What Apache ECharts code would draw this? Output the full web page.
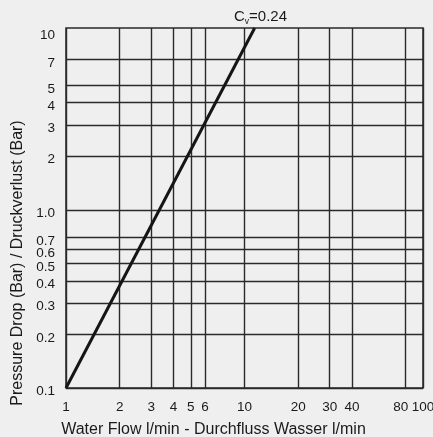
<!DOCTYPE html>
<html>
<head>
<meta charset="utf-8">
<script src="https://cdn.jsdelivr.net/npm/echarts@6/dist/echarts.min.js"></script>
<style>
html,body{margin:0;padding:0;background:#efefef;}
#c{width:433px;height:437px;}
</style>
</head>
<body>
<div id="c"></div>
<script>
// Data
var flowValues = [1, 11.4];          // Water flow l/min
var pressureValues = [0.1, 10.5];    // Pressure drop bar (straight line in log-log)
var xTickValues = [1, 2, 3, 4, 5, 6, 10, 20, 30, 40, 80, 100];
var xLabelValuesMain = [1, 2, 3, 4, 5, 6, 10, 20, 30, 40, 100];
var xLabelValuesExtra = [80];
var yGridValues = [0.1, 0.2, 0.3, 0.4, 0.5, 0.6, 0.7, 1, 2, 3, 4, 5, 7];
var yLabelValues = [0.1, 0.2, 0.3, 0.4, 0.5, 0.6, 0.7, 1, 2, 3, 4, 5, 7, 10];
var yLabelTexts = ['0.1', '0.2', '0.3', '0.4', '0.5', '0.6', '0.7', '1.0', '2', '3', '4', '5', '7', '10'];

var FONT = '"Liberation Sans", Arial, sans-serif';
var chart = echarts.init(document.getElementById('c'), null, {renderer: 'canvas'});

function yFmt(v) {
  for (var i = 0; i < yLabelValues.length; i++) {
    if (Math.abs(yLabelValues[i] - v) < 1e-6) return '{a|' + yLabelTexts[i] + '}';
  }
  return '';
}
function xFmt(v) { return String(Math.round(v)); }

var labelStyle = { fontFamily: FONT, fontSize: 13.5, color: '#1a1a1a' };

chart.setOption({
  backgroundColor: '#efefef',
  animation: false,
  title: {
    text: 'C{v|v}=0.24',
    left: 229, top: 3,
    textStyle: {
      fontFamily: FONT, fontSize: 15, fontWeight: 'normal', color: '#1a1a1a',
      rich: { v: { fontSize: 8.5, fontFamily: FONT, color: '#1a1a1a', padding: [9, 0, 0, 0] } }
    }
  },
  grid: {
    left: 66, right: 10, top: 28, bottom: 49,
    containLabel: false, outerBoundsMode: 'none',
    show: true, borderColor: '#2a2a2a', borderWidth: 1.5, backgroundColor: 'transparent'
  },
  xAxis: [{
    type: 'log', logBase: 10, min: 1, max: 100,
    name: 'Water Flow l/min - Durchfluss Wasser l/min',
    nameLocation: 'middle', nameGap: 34,
    nameTextStyle: { fontFamily: FONT, fontSize: 16, color: '#1a1a1a', padding: [0, 62, 0, 0] },
    axisLine: { show: false },
    axisTick: { show: false, customValues: xTickValues },
    minorTick: { show: false },
    axisLabel: Object.assign({
      customValues: xLabelValuesMain, margin: 12,
      hideOverlap: false, showMinLabel: true, showMaxLabel: true,
      formatter: xFmt
    }, labelStyle),
    splitLine: { show: true, lineStyle: { color: '#2a2a2a', width: 1.4 } }
  }, {
    type: 'log', logBase: 10, min: 1, max: 100, position: 'bottom',
    axisLine: { show: false },
    axisTick: { show: false, customValues: xLabelValuesExtra },
    minorTick: { show: false },
    splitLine: { show: false },
    axisLabel: Object.assign({
      customValues: xLabelValuesExtra, margin: 12,
      rich: { p: { fontFamily: FONT, fontSize: 13.5, color: '#1a1a1a', padding: [0, 10, 0, 0] } },
      formatter: function (v) { return '{p|' + xFmt(v) + '}'; }
    }, labelStyle)
  }],
  yAxis: {
    type: 'log', logBase: 10, min: 0.1, max: 10.5,
    name: 'Pressure Drop (Bar) / Druckverlust (Bar)',
    nameLocation: 'middle', nameGap: 40,
    nameTextStyle: { fontFamily: FONT, fontSize: 16, color: '#1a1a1a', padding: [0, 110, 0, 0] },
    axisLine: { show: false },
    axisTick: { show: false, customValues: yGridValues },
    axisLabel: {
      customValues: yLabelValues, margin: 11,
      hideOverlap: false, showMinLabel: true, showMaxLabel: true,
      fontFamily: FONT, fontSize: 13.5, color: '#1a1a1a',
      rich: { a: { fontFamily: FONT, fontSize: 13.5, color: '#1a1a1a', padding: [7, 0, 0, 0] } },
      formatter: yFmt
    },
    splitLine: { show: true, lineStyle: { color: '#2a2a2a', width: 1.4 } }
  },
  series: [{
    type: 'line',
    data: flowValues.map(function (x, i) { return [x, pressureValues[i]]; }),
    showSymbol: false,
    lineStyle: { color: '#151515', width: 3 },
    clip: true
  }]
});
</script>
</body>
</html>
